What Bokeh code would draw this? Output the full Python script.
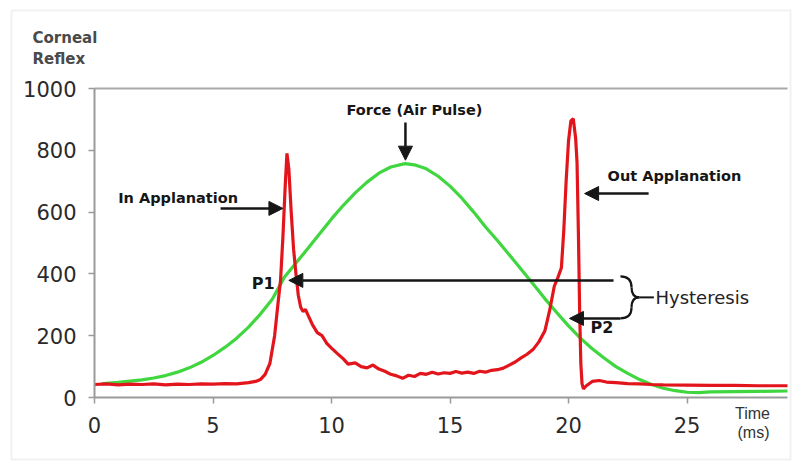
from bokeh.plotting import figure
from bokeh.models import (Range1d, Arrow, NormalHead, Label, BoxAnnotation,
                          FixedTicker)
from bokeh.embed import file_html
from bokeh.resources import INLINE

# ---------------- data ----------------
red_t = [0.0, 0.5, 1.0, 1.5, 2.0, 2.5, 3.0, 3.5, 4.0, 4.5, 5.0, 5.5, 6.0, 6.5,
         6.8, 7.0, 7.2, 7.4, 7.6, 7.75, 7.85, 7.95, 8.05, 8.12, 8.2, 8.3, 8.4,
         8.5, 8.6, 8.7, 8.8, 8.9, 9.0, 9.2, 9.4, 9.6, 9.8, 10.0, 10.25, 10.5,
         10.7, 11.0, 11.25, 11.5, 11.75, 12.0, 12.25, 12.5, 12.75, 13.0, 13.25,
         13.5, 13.75, 14.0, 14.25, 14.5, 14.75, 15.0, 15.25, 15.5, 15.75, 16.0,
         16.25, 16.5, 16.75, 17.0, 17.25, 17.5, 17.75, 18.0, 18.25, 18.5, 18.75,
         19.0, 19.2, 19.4, 19.55, 19.7, 19.8, 19.9, 20.0, 20.1, 20.2, 20.3,
         20.36, 20.42, 20.47, 20.52, 20.57, 20.63, 20.75, 21.0, 21.3, 21.6,
         22.0, 22.5, 23.0, 23.5, 24.0, 25.0, 26.0, 27.0, 28.0, 29.24]
red_v = [42, 44, 41, 43, 42, 44, 41, 43, 42, 44, 43, 45, 44, 48,
         52, 58, 75, 110, 200, 310, 380, 520, 690, 790, 740, 600, 480,
         400, 330, 292, 278, 285, 268, 235, 210, 200, 175, 160, 142, 125,
         108, 112, 100, 96, 105, 92, 85, 75, 70, 62, 72,
         68, 78, 75, 82, 76, 80, 78, 84, 79, 82, 78,
         85, 82, 88, 90, 95, 105, 115, 128, 140, 155, 180,
         215, 280, 360, 388, 420, 540, 700, 830, 895, 902, 840,
         760, 520, 280, 110, 45, 28, 38, 52, 55, 50,
         48, 45, 44, 42, 41, 40, 39, 39, 38, 38]

green_t = [0.3, 0.5, 1.0, 1.5, 2.0, 2.5, 3.0, 3.5, 4.0, 4.5, 5.0, 5.5, 6.0,
           6.5, 7.0, 7.5, 8.0, 8.5, 9.0, 9.5, 10.0, 10.5, 11.0, 11.5, 12.0,
           12.5, 13.1, 13.5, 14.0, 14.5, 15.0, 15.5, 16.0, 16.5, 17.0, 17.5,
           18.0, 18.5, 19.0, 19.5, 20.0, 20.5, 21.0, 21.5, 22.0, 22.5, 23.0,
           23.5, 24.0, 24.5, 25.0, 25.5, 26.0, 27.0, 28.0, 29.24]
green_v = [44, 46, 49, 53, 57, 63, 71, 82, 96, 114, 136, 162, 192,
           228, 270, 318, 388, 435, 482, 530, 578, 622, 662, 697, 726,
           746, 757, 753, 740, 716, 684, 645, 600, 552, 508, 462,
           415, 368, 320, 275, 232, 192, 158, 128, 100, 78, 58,
           42, 30, 22, 17, 16, 18, 19, 20, 21]

x_ticks = [0, 5, 10, 15, 20, 25]
y_ticks = [0, 200, 400, 600, 800, 1000]
x_max = 29.24
y_max = 1000

RED = "#e3151c"
GREEN = "#3fd63f"
INK = "#161616"
FONT = "DejaVu Sans"

W, H = 797, 461
# pixel anchors of the plotting area (x=0 / x=x_max, y=0 / y=y_max)
PX0, PX1, PY0, PY1 = 94.0, 787.0, 397.0, 88.0
sx = (PX1 - PX0) / x_max
sy = (PY0 - PY1) / y_max

def dx(px):
    return (px - PX0) / sx

def dy(py):
    return (PY0 - py) / sy

p = figure(width=W, height=H, output_backend="svg", toolbar_location=None,
           x_range=Range1d(dx(0), dx(W)), y_range=Range1d(dy(H), dy(0)),
           min_border=0)
p.min_border_left = p.min_border_right = 0
p.min_border_top = p.min_border_bottom = 0
p.outline_line_color = None
p.grid.visible = False
p.background_fill_color = "white"
p.border_fill_color = "white"

for ax in (p.xaxis[0], p.yaxis[0]):
    ax.fixed_location = 0
    ax.axis_line_color = "#9a9a9a"
    ax.axis_line_width = 2
    ax.major_tick_line_color = "#9a9a9a"
    ax.major_tick_line_width = 1.5
    ax.major_tick_in = 0
    ax.major_tick_out = 6
    ax.minor_tick_line_color = None
    ax.major_label_text_font = FONT
    ax.major_label_text_font_size = "21px"
    ax.major_label_text_color = "#2a2a2a"
p.xaxis.ticker = FixedTicker(ticks=x_ticks)
p.yaxis.ticker = FixedTicker(ticks=y_ticks)
p.xaxis.bounds = (0, x_max)
p.yaxis.bounds = (0, y_max)
p.xaxis.major_label_standoff = 13
p.yaxis.major_label_standoff = 12

# top frame line
p.line([0, x_max], [y_max, y_max], line_color="#a8a8a8", line_width=2)

# outer box
p.add_layout(BoxAnnotation(left=dx(11), right=dx(790), top=dy(10),
                           bottom=dy(459), fill_alpha=0,
                           line_color="#cfcfcf", line_width=2))

# curves
p.line(green_t, green_v, line_color=GREEN, line_width=3.2)
p.line(red_t, red_v, line_color=RED, line_width=3.2)

# arrows
def arrow(x0, y0, x1, y1):
    p.add_layout(Arrow(end=NormalHead(size=14, fill_color=INK, line_color=INK),
                       x_start=x0, y_start=y0, x_end=x1, y_end=y1,
                       line_color=INK, line_width=2.5))

arrow(13.12, 890, 13.12, 768)      # Force
arrow(5.32, 612, 7.95, 612)        # In applanation
arrow(23.38, 660, 20.68, 660)      # Out applanation
arrow(21.9, 379, 8.2, 379)         # P1
arrow(22.19, 256, 20.04, 256)      # P2

# brace
p.bezier(x0=[22.19, 22.66, 22.99, 22.66], y0=[392, 356, 324, 291],
         x1=[22.66, 22.99, 22.66, 22.19], y1=[356, 324, 291, 256],
         cx0=[22.53, 22.66, 22.78, 22.66], cy0=[392, 333, 324, 269],
         cx1=[22.66, 22.78, 22.66, 22.53], cy1=[379, 324, 314, 256],
         line_color=INK, line_width=2.2)
p.line([22.99, 23.6], [324, 324], line_color=INK, line_width=2)

def lab(x, y, text, size="14.5px", bold=True, align="left", color=INK,
        font=FONT):
    p.add_layout(Label(x=x, y=y, text=text,
                       text_font=font, text_font_size=size,
                       text_font_style="bold" if bold else "normal",
                       text_align=align, text_baseline="middle",
                       text_color=color))

lab(13.5, 929, "Force (Air Pulse)", align="center")
lab(1.0, 647, "In Applanation")
lab(21.65, 718, "Out Applanation")
lab(7.6, 369, "P1", size="16px", align="right")
lab(20.93, 227, "P2", size="16px")
lab(23.67, 324, "Hysteresis", size="18px", bold=False, color="#222")

lab(dx(32), dy(37), "Corneal", size="15px", color="#4a4a4a")
lab(dx(32), dy(58), "Reflex", size="15px", color="#4a4a4a")
lab(dx(752), dy(413), "Time", size="16px", bold=False, align="center",
    color="#333", font="Liberation Sans")
lab(dx(753), dy(432), "(ms)", size="16px", bold=False, align="center",
    color="#333", font="Liberation Sans")

open("out.html", "w").write(file_html(p, INLINE))
